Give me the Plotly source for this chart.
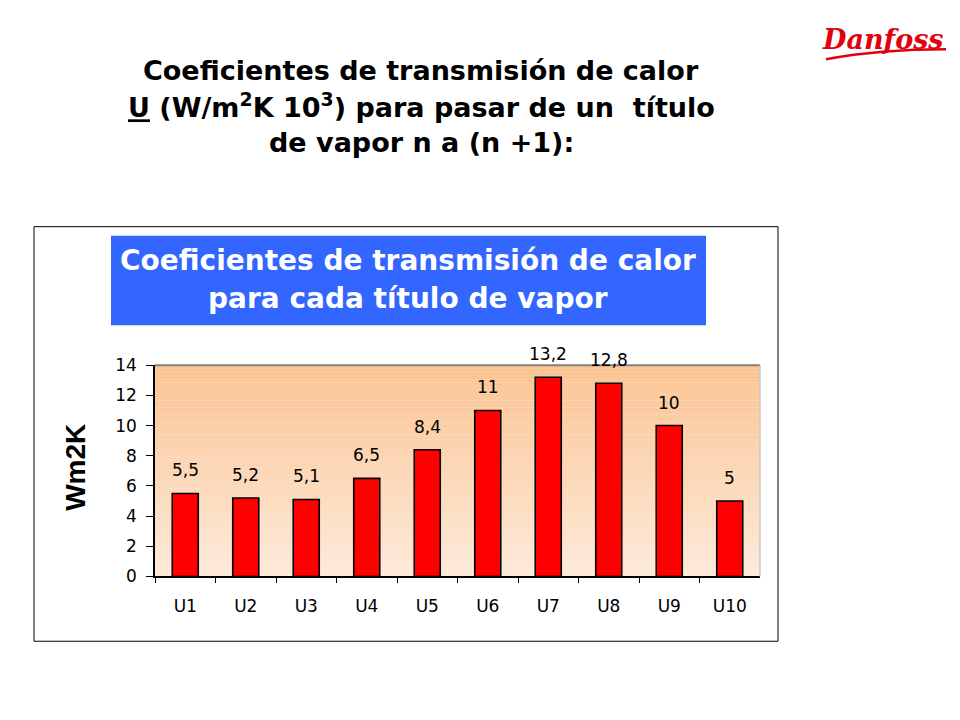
import plotly.graph_objects as go

categories = ["U1", "U2", "U3", "U4", "U5", "U6", "U7", "U8", "U9", "U10"]
values = [5.5, 5.2, 5.1, 6.5, 8.4, 11, 13.2, 12.8, 10, 5]
labels = ["5,5", "5,2", "5,1", "6,5", "8,4", "11", "13,2", "12,8", "10", "5"]
y_ticks = [0, 2, 4, 6, 8, 10, 12, 14]

W, H = 960, 720
# compensation for the page offset observed in the rendered screenshot
def px(x):
    return (x - 8) / W
def py(y):
    return 1 - ((y - 15.6) / 0.9756) / H

fig = go.Figure()
fig.add_trace(go.Bar(
    x=categories, y=values,
    marker=dict(color="#FF0000", line=dict(color="#000000", width=1.6)),
    width=0.43,
    hoverinfo="skip",
))

shapes = []
n = 60
top = (251, 196, 146)
bot = (253, 234, 218)
for i in range(n):
    t = i / (n - 1)
    c = tuple(round(bot[k] + (top[k] - bot[k]) * t) for k in range(3))
    shapes.append(dict(type="rect", xref="x domain", yref="y domain",
                       x0=0, x1=1, y0=i / n, y1=(i + 1) / n,
                       fillcolor="rgb(%d,%d,%d)" % c, line=dict(width=0), layer="below"))
shapes.append(dict(type="line", xref="x domain", yref="y domain", x0=0, x1=1, y0=1, y1=1,
                   line=dict(color="#808080", width=2)))
shapes.append(dict(type="line", xref="x domain", yref="y domain", x0=1, x1=1, y0=0, y1=1,
                   line=dict(color="#C8C8C8", width=1.5)))
shapes.append(dict(type="rect", xref="paper", yref="paper",
                   x0=px(34), x1=px(778), y0=py(641), y1=py(225),
                   line=dict(color="#000000", width=1), fillcolor="rgba(0,0,0,0)"))
shapes.append(dict(type="rect", xref="paper", yref="paper",
                   x0=px(111), x1=px(706), y0=py(324), y1=py(234),
                   line=dict(width=0), fillcolor="#3366FF"))
shapes.append(dict(type="path", xref="paper", yref="paper",
                   path="M %f %f Q %f %f %f %f" % (px(826), py(57), px(880), py(47), px(946), py(47)),
                   line=dict(color="#E2000F", width=2.5)))

annotations = []
title_font = dict(family="DejaVu Sans, Verdana, sans-serif", size=27, color="#000000")
for txt, yy in [("<b>Coeficientes de transmisión de calor</b>", 68),
                ("<b><u>U</u> (W/m<sup>2</sup>K 10<sup>3</sup>) para pasar de un&nbsp; título</b>", 103),
                ("<b>de vapor n a (n +1):</b>", 141)]:
    annotations.append(dict(text=txt, xref="paper", yref="paper", x=px(421), y=py(yy),
                            xanchor="center", yanchor="middle", showarrow=False, font=title_font))

box_font = dict(family="DejaVu Sans, Verdana, sans-serif", size=28, color="#FFFFFF")
for txt, yy in [("<b>Coeficientes de transmisión de calor</b>", 259),
                ("<b>para cada título de vapor</b>", 297)]:
    annotations.append(dict(text=txt, xref="paper", yref="paper", x=px(408), y=py(yy),
                            xanchor="center", yanchor="middle", showarrow=False, font=box_font))

annotations.append(dict(text="<b>Wm2K</b>", xref="paper", yref="paper", x=px(76), y=py(467),
                        xanchor="center", yanchor="middle", showarrow=False, textangle=-90,
                        font=dict(family="Liberation Sans, Arial, sans-serif", size=28, color="#000000")))

for c, v, lab in zip(categories, values, labels):
    annotations.append(dict(text=lab, x=c, y=v, xref="x", yref="y", showarrow=False,
                            yanchor="middle", yshift=23,
                            font=dict(family="DejaVu Sans, Verdana, sans-serif", size=17, color="#000000")))

annotations.append(dict(text="<b><i>Danfoss</i></b>", xref="paper", yref="paper", x=px(883), y=py(37),
                        xanchor="center", yanchor="middle", showarrow=False,
                        font=dict(family="DejaVu Serif, serif", size=27, color="#E2000F")))

tickfont = dict(family="DejaVu Sans, Verdana, sans-serif", size=17, color="#000000")
fig.update_layout(
    width=W, height=H,
    margin=dict(l=0, r=0, t=0, b=0),
    paper_bgcolor="#FFFFFF",
    plot_bgcolor="#FDEADA",
    showlegend=False,
    shapes=shapes,
    annotations=annotations,
    xaxis=dict(domain=[px(155), px(760)], type="category", tickson="boundaries",
               ticks="outside", ticklen=5, tickcolor="#000000", showline=True,
               linecolor="#000000", linewidth=1.5, showgrid=False, zeroline=False,
               ticklabelstandoff=13, tickfont=tickfont),
    yaxis=dict(domain=[py(576), py(364)], range=[0, 14], tickvals=y_ticks,
               ticks="outside", ticklen=7, tickcolor="#000000", showline=True,
               linecolor="#000000", linewidth=1.5, showgrid=False, zeroline=False,
               ticklabelstandoff=6, tickfont=tickfont),
)

fig.write_html("out.html")
